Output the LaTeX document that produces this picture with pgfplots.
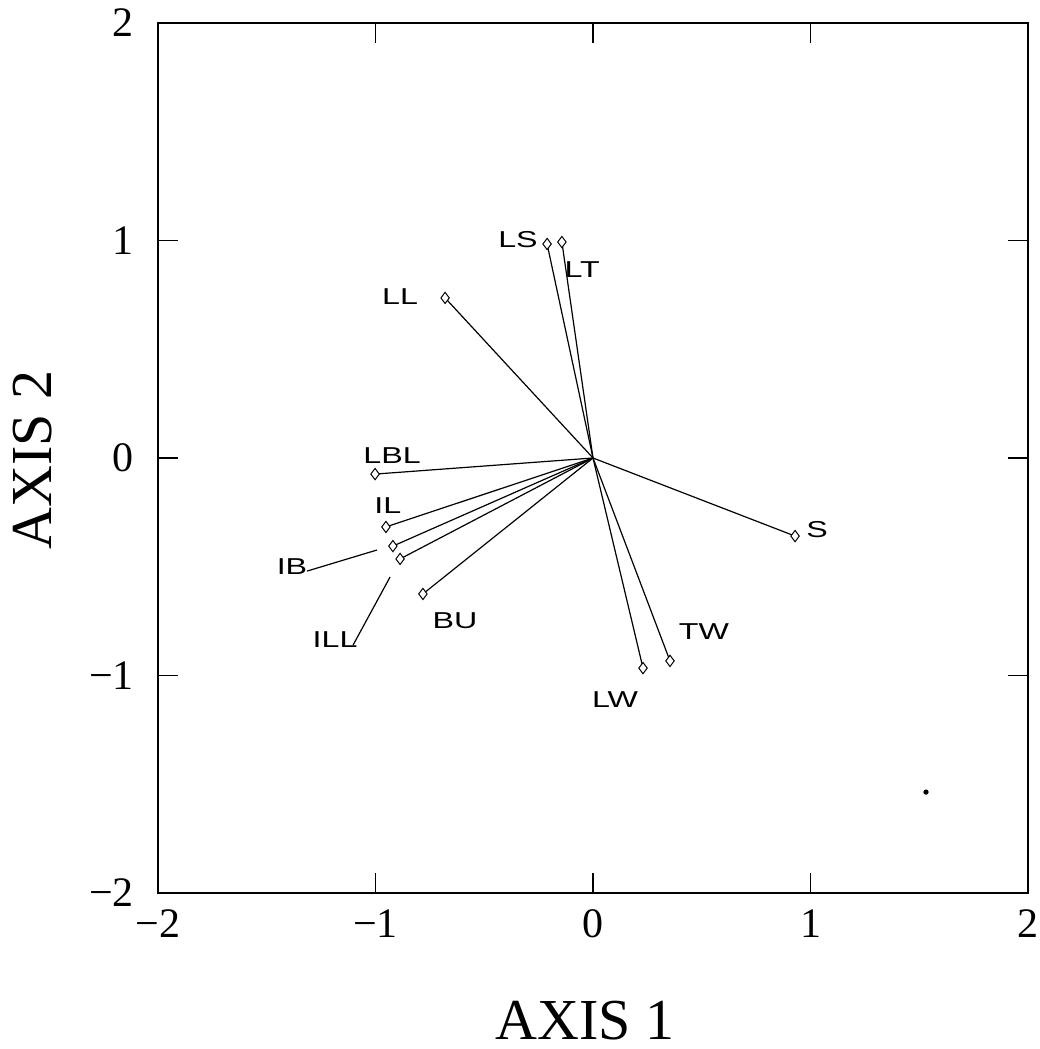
\documentclass[border=0pt]{standalone}
\usepackage{fontspec}
\setmainfont{Liberation Serif}
\newfontfamily\labfont{Liberation Sans}
\usepackage{pgfplots}
\pgfplotsset{compat=1.18}
\tikzset{lab/.style={font=\labfont\fontsize{11.5}{12}\selectfont, xscale=1.4, inner sep=0pt}}
\begin{document}
\begin{tikzpicture}
\path[use as bounding box] (-79pt,-78pt) rectangle (440.5pt,446.5pt);
\begin{axis}[
  at={(0pt,0pt)}, anchor=south west,
  width=435pt, height=435pt, scale only axis,
  xmin=-2,xmax=2,ymin=-2,ymax=2,
  xtick={-2,-1,0,1,2}, ytick={-2,-1,0,1,2},
  xticklabels={−2,−1,0,1,2}, yticklabels={−2,−1,0,1,2},
  tick align=inside, major tick length=10pt,
  axis line style={line width=0.9pt},
  every tick/.style={black, line width=0.8pt},
  ticklabel style={font=\fontsize{21}{21}\selectfont},
  xticklabel style={yshift=-5pt},
  yticklabel style={xshift=-8.5pt},
  clip=false,
]
\addplot[black, line width=0.6pt] coordinates {(0,0) (-0.211,0.984)};
\addplot[black, line width=0.6pt] coordinates {(0,0) (-0.143,0.993)};
\addplot[black, line width=0.6pt] coordinates {(0,0) (-0.680,0.736)};
\addplot[black, line width=0.6pt] coordinates {(0,0) (-1.002,-0.074)};
\addplot[black, line width=0.6pt] coordinates {(0,0) (-0.952,-0.317)};
\addplot[black, line width=0.6pt] coordinates {(0,0) (-0.920,-0.405)};
\addplot[black, line width=0.6pt] coordinates {(0,0) (-0.887,-0.464)};
\addplot[black, line width=0.6pt] coordinates {(0,0) (-0.782,-0.625)};
\addplot[black, line width=0.6pt] coordinates {(0,0) (0.929,-0.359)};
\addplot[black, line width=0.6pt] coordinates {(0,0) (0.354,-0.933)};
\addplot[black, line width=0.6pt] coordinates {(0,0) (0.230,-0.966)};
\addplot[black, line width=0.6pt] coordinates {(-1.315,-0.520) (-0.993,-0.423)};
\addplot[black, line width=0.6pt] coordinates {(-1.103,-0.860) (-0.933,-0.547)};
\addplot[only marks, mark=diamond*, mark size=2.8pt, mark options={fill=white, draw=black, line width=0.5pt}] coordinates {
(-0.211,0.984) (-0.143,0.993) (-0.680,0.736) (-1.002,-0.074) (-0.952,-0.317)
(-0.920,-0.405) (-0.887,-0.464) (-0.782,-0.625) (0.929,-0.359) (0.354,-0.933) (0.230,-0.966)};
\addplot[only marks, mark=*, mark size=1.1pt, black] coordinates {(1.531,-1.536)};
\node[lab] at (axis cs:-0.345,1.002) {LS};
\node[lab] at (axis cs:-0.05,0.864) {LT};
\node[lab] at (axis cs:-0.887,0.740) {LL};
\node[lab] at (axis cs:-0.924,0.009) {LBL};
\node[lab] at (axis cs:-0.943,-0.221) {IL};
\node[lab] at (axis cs:-1.384,-0.501) {IB};
\node[lab] at (axis cs:-1.186,-0.837) {ILL};
\node[lab] at (axis cs:-0.634,-0.749) {BU};
\node[lab] at (axis cs:1.03,-0.331) {S};
\node[lab] at (axis cs:0.510,-0.800) {TW};
\node[lab] at (axis cs:0.101,-1.113) {LW};
\end{axis}
\node[rotate=90, anchor=base, inner sep=0pt, font=\fontsize{29}{29}\selectfont] at (-53pt,216.5pt) {AXIS 2};
\node[anchor=base, inner sep=0pt, font=\fontsize{29}{29}\selectfont] at (213.5pt,-73pt) {AXIS 1};
\end{tikzpicture}
\end{document}
